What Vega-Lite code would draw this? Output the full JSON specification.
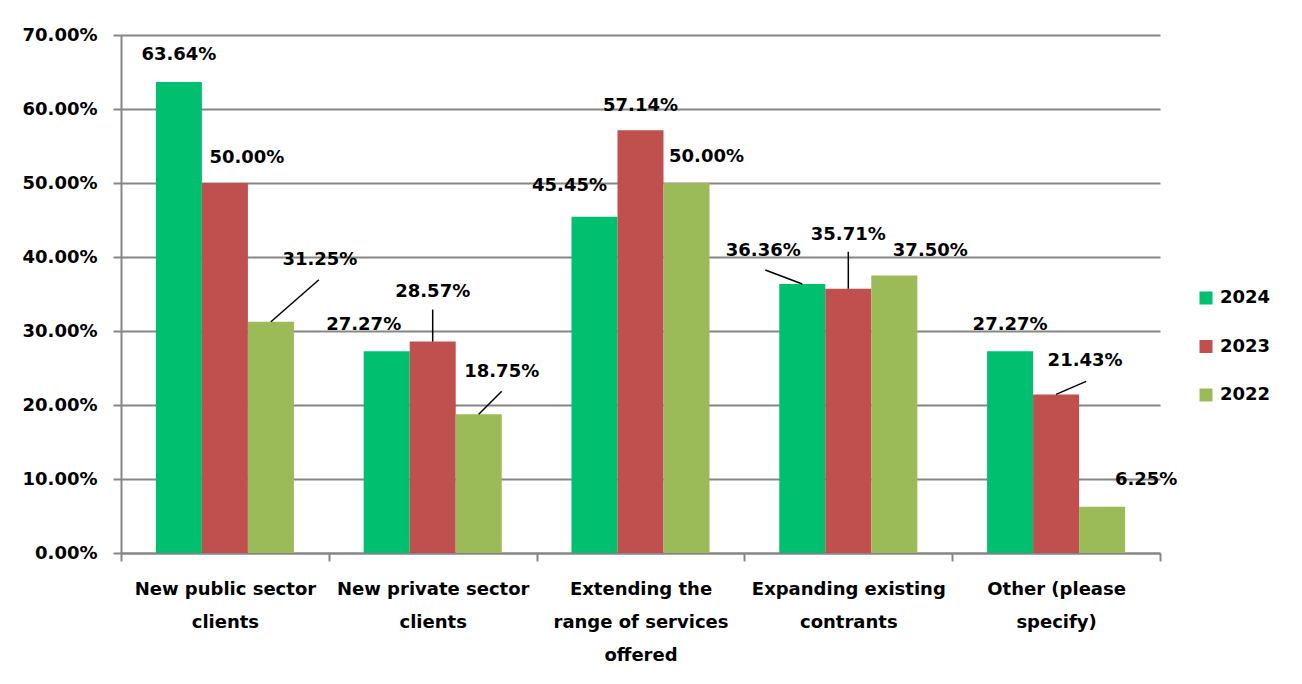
{
  "$schema": "https://vega.github.io/schema/vega-lite/v6.json",
  "autosize": {"type": "none"},
  "padding": {"left": 121, "top": 35, "right": 142, "bottom": 131},
  "width": 1039,
  "height": 518,
  "background": "white",
  "config": {
    "font": "DejaVu Sans",
    "view": {"stroke": null},
    "axis": {"labelFont": "DejaVu Sans", "labelFontWeight": "bold", "labelFontSize": 18, "labelColor": "black", "titleFontSize": 18}
  },
  "data": {
    "values": [
      {"category": "New public sector clients", "year": "2024", "value": 0.6364},
      {"category": "New public sector clients", "year": "2023", "value": 0.5000},
      {"category": "New public sector clients", "year": "2022", "value": 0.3125},
      {"category": "New private sector clients", "year": "2024", "value": 0.2727},
      {"category": "New private sector clients", "year": "2023", "value": 0.2857},
      {"category": "New private sector clients", "year": "2022", "value": 0.1875},
      {"category": "Extending the range of services offered", "year": "2024", "value": 0.4545},
      {"category": "Extending the range of services offered", "year": "2023", "value": 0.5714},
      {"category": "Extending the range of services offered", "year": "2022", "value": 0.5000},
      {"category": "Expanding existing contrants", "year": "2024", "value": 0.3636},
      {"category": "Expanding existing contrants", "year": "2023", "value": 0.3571},
      {"category": "Expanding existing contrants", "year": "2022", "value": 0.3750},
      {"category": "Other (please specify)", "year": "2024", "value": 0.2727},
      {"category": "Other (please specify)", "year": "2023", "value": 0.2143},
      {"category": "Other (please specify)", "year": "2022", "value": 0.0625}
    ]
  },
  "encoding": {
    "x": {
      "field": "category", "type": "nominal", "sort": null, "title": null,
      "scale": {"paddingInner": 0, "paddingOuter": 0},
      "axis": {
        "labelAngle": 0, "tickBand": "extent", "tickSize": 8, "tickColor": "#868686", "tickWidth": 2,
        "domainColor": "#868686", "domainWidth": 2, "labelPadding": 19, "labelLineHeight": 33, "labelLimit": 400,
        "labelExpr": "datum.value == 'New public sector clients' ? ['New public sector', 'clients'] : datum.value == 'New private sector clients' ? ['New private sector', 'clients'] : datum.value == 'Extending the range of services offered' ? ['Extending the', 'range of services', 'offered'] : datum.value == 'Expanding existing contrants' ? ['Expanding existing', 'contrants'] : datum.value == 'Other (please specify)' ? ['Other (please', 'specify)'] : ''"
      }
    },
    "xOffset": {
      "field": "year", "type": "nominal", "sort": ["2024", "2023", "2022"],
      "scale": {"paddingInner": 0, "paddingOuter": 0.758}
    },
    "y": {
      "field": "value", "type": "quantitative", "title": null,
      "scale": {"domain": [0, 0.7], "nice": false},
      "axis": {
        "values": [0, 0.1, 0.2, 0.3, 0.4, 0.5, 0.6, 0.7], "format": ".2%",
        "tickSize": 8, "tickColor": "#868686", "tickWidth": 2, "labelPadding": 16,
        "domainColor": "#868686", "domainWidth": 2,
        "grid": true, "gridColor": "#868686", "gridWidth": 2
      }
    }
  },
  "layer": [
    {
      "mark": {"type": "bar"},
      "encoding": {
        "color": {
          "field": "year", "type": "nominal", "sort": ["2024", "2023", "2022"],
          "scale": {"domain": ["2024", "2023", "2022"], "range": ["#00BF6F", "#C0504D", "#9BBB59"]},
          "legend": {
            "title": null, "orient": "none", "legendX": 1076, "legendY": 254,
            "symbolType": "square", "symbolSize": 169, "symbolStrokeWidth": 0,
            "labelFont": "DejaVu Sans", "labelFontWeight": "bold", "labelFontSize": 18, "labelColor": "black",
            "rowPadding": 30.5, "labelOffset": 5
          }
        }
      }
    },
    {"transform": [{"filter": "datum.category == 'New public sector clients' && datum.year == '2024'"}],
     "mark": {"type": "text", "font": "DejaVu Sans", "fontWeight": "bold", "fontSize": 18, "color": "black", "baseline": "middle", "dx": 0, "dy": -27},
     "encoding": {"text": {"field": "value", "format": ".2%"}}},
    {"transform": [{"filter": "datum.category == 'New public sector clients' && datum.year == '2023'"}],
     "mark": {"type": "text", "font": "DejaVu Sans", "fontWeight": "bold", "fontSize": 18, "color": "black", "baseline": "middle", "dx": 22, "dy": -25},
     "encoding": {"text": {"field": "value", "format": ".2%"}}},
    {"transform": [{"filter": "datum.category == 'New public sector clients' && datum.year == '2022'"}],
     "mark": {"type": "text", "font": "DejaVu Sans", "fontWeight": "bold", "fontSize": 18, "color": "black", "baseline": "middle", "dx": 49, "dy": -62},
     "encoding": {"text": {"field": "value", "format": ".2%"}}},
    {"transform": [{"filter": "datum.category == 'New private sector clients' && datum.year == '2024'"}],
     "mark": {"type": "text", "font": "DejaVu Sans", "fontWeight": "bold", "fontSize": 18, "color": "black", "baseline": "middle", "dx": -23, "dy": -26},
     "encoding": {"text": {"field": "value", "format": ".2%"}}},
    {"transform": [{"filter": "datum.category == 'New private sector clients' && datum.year == '2023'"}],
     "mark": {"type": "text", "font": "DejaVu Sans", "fontWeight": "bold", "fontSize": 18, "color": "black", "baseline": "middle", "dx": 0, "dy": -50},
     "encoding": {"text": {"field": "value", "format": ".2%"}}},
    {"transform": [{"filter": "datum.category == 'New private sector clients' && datum.year == '2022'"}],
     "mark": {"type": "text", "font": "DejaVu Sans", "fontWeight": "bold", "fontSize": 18, "color": "black", "baseline": "middle", "dx": 23, "dy": -42},
     "encoding": {"text": {"field": "value", "format": ".2%"}}},
    {"transform": [{"filter": "datum.category == 'Extending the range of services offered' && datum.year == '2024'"}],
     "mark": {"type": "text", "font": "DejaVu Sans", "fontWeight": "bold", "fontSize": 18, "color": "black", "baseline": "middle", "dx": -25, "dy": -31},
     "encoding": {"text": {"field": "value", "format": ".2%"}}},
    {"transform": [{"filter": "datum.category == 'Extending the range of services offered' && datum.year == '2023'"}],
     "mark": {"type": "text", "font": "DejaVu Sans", "fontWeight": "bold", "fontSize": 18, "color": "black", "baseline": "middle", "dx": 0, "dy": -24},
     "encoding": {"text": {"field": "value", "format": ".2%"}}},
    {"transform": [{"filter": "datum.category == 'Extending the range of services offered' && datum.year == '2022'"}],
     "mark": {"type": "text", "font": "DejaVu Sans", "fontWeight": "bold", "fontSize": 18, "color": "black", "baseline": "middle", "dx": 20, "dy": -26},
     "encoding": {"text": {"field": "value", "format": ".2%"}}},
    {"transform": [{"filter": "datum.category == 'Expanding existing contrants' && datum.year == '2024'"}],
     "mark": {"type": "text", "font": "DejaVu Sans", "fontWeight": "bold", "fontSize": 18, "color": "black", "baseline": "middle", "dx": -39, "dy": -33},
     "encoding": {"text": {"field": "value", "format": ".2%"}}},
    {"transform": [{"filter": "datum.category == 'Expanding existing contrants' && datum.year == '2023'"}],
     "mark": {"type": "text", "font": "DejaVu Sans", "fontWeight": "bold", "fontSize": 18, "color": "black", "baseline": "middle", "dx": 0, "dy": -54},
     "encoding": {"text": {"field": "value", "format": ".2%"}}},
    {"transform": [{"filter": "datum.category == 'Expanding existing contrants' && datum.year == '2022'"}],
     "mark": {"type": "text", "font": "DejaVu Sans", "fontWeight": "bold", "fontSize": 18, "color": "black", "baseline": "middle", "dx": 36, "dy": -25},
     "encoding": {"text": {"field": "value", "format": ".2%"}}},
    {"transform": [{"filter": "datum.category == 'Other (please specify)' && datum.year == '2024'"}],
     "mark": {"type": "text", "font": "DejaVu Sans", "fontWeight": "bold", "fontSize": 18, "color": "black", "baseline": "middle", "dx": 0, "dy": -26},
     "encoding": {"text": {"field": "value", "format": ".2%"}}},
    {"transform": [{"filter": "datum.category == 'Other (please specify)' && datum.year == '2023'"}],
     "mark": {"type": "text", "font": "DejaVu Sans", "fontWeight": "bold", "fontSize": 18, "color": "black", "baseline": "middle", "dx": 29, "dy": -33},
     "encoding": {"text": {"field": "value", "format": ".2%"}}},
    {"transform": [{"filter": "datum.category == 'Other (please specify)' && datum.year == '2022'"}],
     "mark": {"type": "text", "font": "DejaVu Sans", "fontWeight": "bold", "fontSize": 18, "color": "black", "baseline": "middle", "dx": 44, "dy": -27},
     "encoding": {"text": {"field": "value", "format": ".2%"}}},
    {"transform": [{"filter": "datum.category == 'New public sector clients' && datum.year == '2022'"}],
     "mark": {"type": "point", "shape": "M0,0L0.96,-0.84", "size": 10000, "filled": false, "color": "black", "strokeWidth": 1.5, "opacity": 1}},
    {"transform": [{"filter": "datum.category == 'New private sector clients' && datum.year == '2023'"}],
     "mark": {"type": "point", "shape": "M0,0L0,-0.64", "size": 10000, "filled": false, "color": "black", "strokeWidth": 1.5, "opacity": 1}},
    {"transform": [{"filter": "datum.category == 'New private sector clients' && datum.year == '2022'"}],
     "mark": {"type": "point", "shape": "M0,0L0.46,-0.46", "size": 10000, "filled": false, "color": "black", "strokeWidth": 1.5, "opacity": 1}},
    {"transform": [{"filter": "datum.category == 'Expanding existing contrants' && datum.year == '2024'"}],
     "mark": {"type": "point", "shape": "M0,0L-0.74,-0.28", "size": 10000, "filled": false, "color": "black", "strokeWidth": 1.5, "opacity": 1}},
    {"transform": [{"filter": "datum.category == 'Expanding existing contrants' && datum.year == '2023'"}],
     "mark": {"type": "point", "shape": "M0,0L0,-0.74", "size": 10000, "filled": false, "color": "black", "strokeWidth": 1.5, "opacity": 1}},
    {"transform": [{"filter": "datum.category == 'Other (please specify)' && datum.year == '2023'"}],
     "mark": {"type": "point", "shape": "M0,0L0.6,-0.26", "size": 10000, "filled": false, "color": "black", "strokeWidth": 1.5, "opacity": 1}}
  ]
}
